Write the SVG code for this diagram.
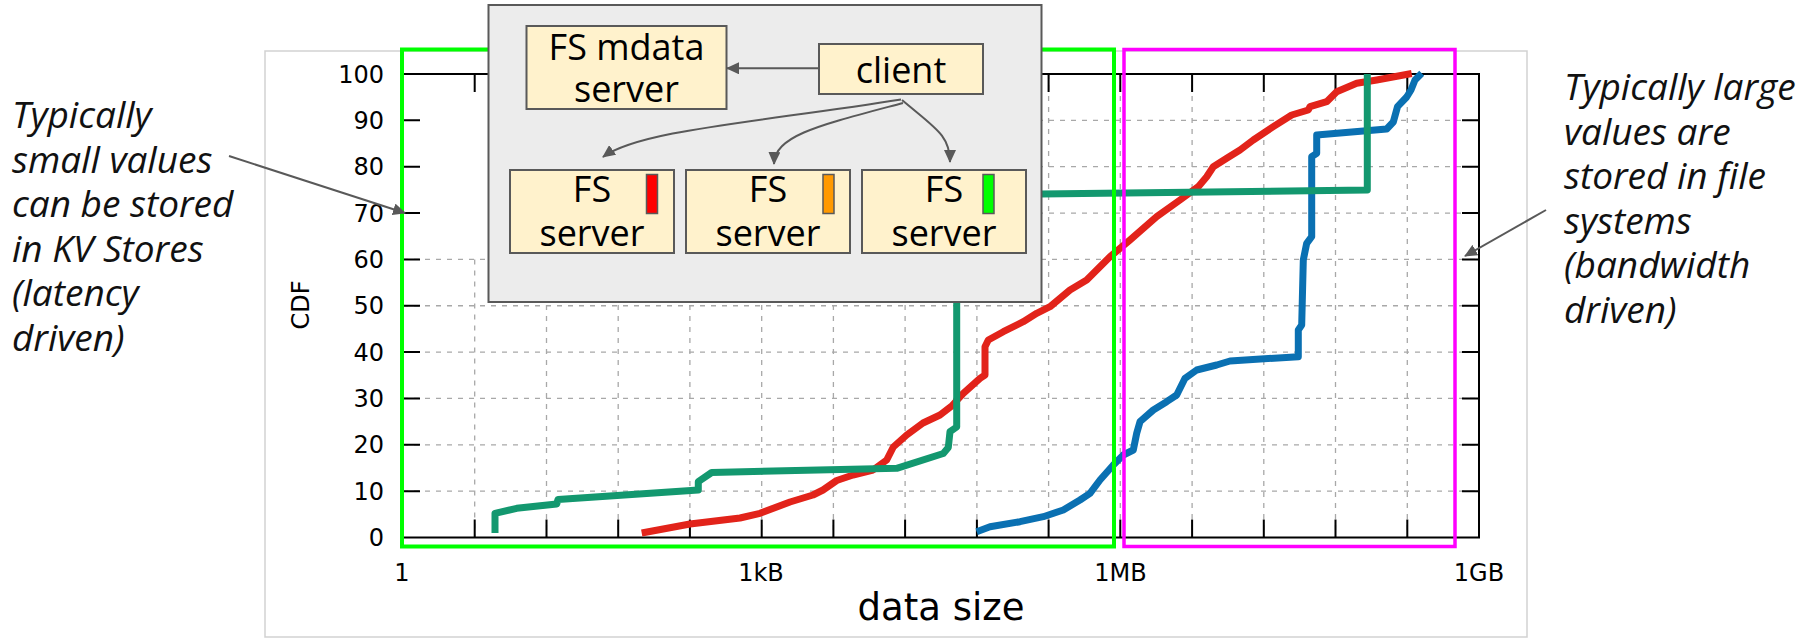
<svg xmlns="http://www.w3.org/2000/svg" width="1814" height="638" viewBox="0 0 1814 638">
<style>
.ann{font-family:"Open Sans","Liberation Sans",sans-serif;font-style:italic;font-size:37px;fill:#111}
.node rect.box{fill:#fff2cc;stroke:#595959;stroke-width:2}
.node text{font-family:"Open Sans","Liberation Sans",sans-serif;font-size:36px;fill:#000;text-anchor:middle}
.bar{stroke:#595959;stroke-width:1.5}
.tick{font-family:"DejaVu Sans","Liberation Sans",sans-serif;font-size:24px;fill:#000}
.grid line{stroke:#a8a8a8;stroke-width:1.3;stroke-dasharray:5,6}
.ax{stroke:#000;stroke-width:2;fill:none}
.curve{fill:none;stroke-width:7;stroke-linejoin:round}
.conn{fill:none;stroke:#595959;stroke-width:2}
</style>
<defs>
<marker id="ah" markerUnits="userSpaceOnUse" markerWidth="14" markerHeight="12" refX="12" refY="6" orient="auto">
<path d="M0,0 L13,6 L0,12 z" fill="#595959"/>
</marker>
</defs>
<rect x="0" y="0" width="1814" height="638" fill="#fff"/>
<!-- chart panel -->
<rect x="265" y="51" width="1262" height="586" fill="#fff" stroke="#d2d2d2" stroke-width="1.5"/>
<g class="grid">
<line x1="474.7" y1="259.4" x2="474.7" y2="537.5"/>
<line x1="546.5" y1="74" x2="546.5" y2="537.5"/>
<line x1="618.2" y1="74" x2="618.2" y2="537.5"/>
<line x1="689.9" y1="74" x2="689.9" y2="537.5"/>
<line x1="761.7" y1="74" x2="761.7" y2="537.5"/>
<line x1="833.4" y1="74" x2="833.4" y2="537.5"/>
<line x1="905.1" y1="74" x2="905.1" y2="537.5"/>
<line x1="976.9" y1="74" x2="976.9" y2="537.5"/>
<line x1="1048.6" y1="74" x2="1048.6" y2="537.5"/>
<line x1="1120.3" y1="74" x2="1120.3" y2="537.5"/>
<line x1="1192.1" y1="74" x2="1192.1" y2="537.5"/>
<line x1="1263.8" y1="74" x2="1263.8" y2="537.5"/>
<line x1="1335.5" y1="74" x2="1335.5" y2="537.5"/>
<line x1="1407.3" y1="74" x2="1407.3" y2="537.5"/>
<line x1="403" y1="491.15" x2="1479" y2="491.15"/>
<line x1="403" y1="444.8" x2="1479" y2="444.8"/>
<line x1="403" y1="398.45" x2="1479" y2="398.45"/>
<line x1="403" y1="352.1" x2="1479" y2="352.1"/>
<line x1="403" y1="305.75" x2="1479" y2="305.75"/>
<line x1="403" y1="259.4" x2="1479" y2="259.4"/>
<line x1="488" y1="213.05" x2="1479" y2="213.05"/>
<line x1="488" y1="166.7" x2="1479" y2="166.7"/>
<line x1="488" y1="120.35" x2="1479" y2="120.35"/>
</g>
<g class="ax">
<rect x="403" y="74" width="1076" height="463.5"/>
<path d="M474.7,537.5v-18M546.5,537.5v-18M618.2,537.5v-18M689.9,537.5v-18M761.7,537.5v-18M833.4,537.5v-18M905.1,537.5v-18M976.9,537.5v-18M1048.6,537.5v-18M1120.3,537.5v-18M1192.1,537.5v-18M1263.8,537.5v-18M1335.5,537.5v-18M1407.3,537.5v-18"/>
<path d="M474.7,74v18M546.5,74v18M618.2,74v18M689.9,74v18M761.7,74v18M833.4,74v18M905.1,74v18M976.9,74v18M1048.6,74v18M1120.3,74v18M1192.1,74v18M1263.8,74v18M1335.5,74v18M1407.3,74v18"/>
<path d="M403,491.15h17M403,444.8h17M403,398.45h17M403,352.1h17M403,305.75h17M403,259.4h17M403,213.05h17M403,166.7h17M403,120.35h17"/>
<path d="M1479,491.15h-17M1479,444.8h-17M1479,398.45h-17M1479,352.1h-17M1479,305.75h-17M1479,259.4h-17M1479,213.05h-17M1479,166.7h-17M1479,120.35h-17"/>
</g>
<g class="tick" text-anchor="end">
<text x="384" y="546">0</text>
<text x="384" y="499.7">10</text>
<text x="384" y="453.3">20</text>
<text x="384" y="407">30</text>
<text x="384" y="360.6">40</text>
<text x="384" y="314.3">50</text>
<text x="384" y="267.9">60</text>
<text x="384" y="221.5">70</text>
<text x="384" y="175.2">80</text>
<text x="384" y="128.9">90</text>
<text x="384" y="82.5">100</text>
</g>
<g class="tick" text-anchor="middle">
<text x="402" y="581">1</text>
<text x="761" y="581">1kB</text>
<text x="1120.5" y="581">1MB</text>
<text x="1479" y="581">1GB</text>
<text x="941" y="620" font-size="37">data size</text>
<text x="0" y="0" transform="translate(309,305) rotate(-90)">CDF</text>
</g>
<g id="curves">
<path class="curve" stroke="#e2231a" d="M641.7,533 L690,524 L740,518 L760,513.3 L790,502 L813,495 L823,490 L836.7,480.5 L853,475 L873,470 L886.7,460 L893.3,447 L906.7,435 L923,423 L940,415 L951.7,406 L963.3,393.3 L980,378.3 L985,375 L985,346.7 L988.3,340 L1003.3,331.7 L1023.3,321.7 L1036.7,313.3 L1050,306.7 L1070,290 L1086.7,280 L1110,256.7 L1130,240 L1156.7,216.7 L1180,200 L1198.3,186.7 L1206.7,176.7 L1213.3,166.7 L1226.7,158.3 L1240,150 L1253.3,140 L1273.3,126.7 L1291.7,115 L1308.3,110 L1310,106.7 L1326.7,101.7 L1336.7,91.7 L1356.7,83.3 L1376.7,80 L1411.7,73.5"/>
<path class="curve" stroke="#0a70b2" d="M976.7,531.7 L990,526.7 L1020,521.7 L1043.3,516.7 L1063.3,510 L1080,500 L1090,493.3 L1100,480 L1113.3,465 L1123.3,455 L1133.3,450 L1136.7,433.3 L1140,421.7 L1153.3,410 L1166.7,401.7 L1176.7,395 L1185,378.3 L1196.7,370 L1216.7,365 L1230,361 L1298.3,356.7 L1298.3,330 L1301.7,325 L1303.3,260 L1306.7,243.3 L1311.7,236.7 L1311.7,156.7 L1316.7,153.3 L1316.7,135 L1386.7,129 L1393.3,122 L1397.5,106.7 L1406.7,97 L1411,90 L1415,80 L1421.7,73.3"/>
<path class="curve" stroke="#13986f" d="M495,533 L495,513.3 L516.7,508.3 L556.7,504 L558,499.5 L698.3,490 L698.3,481.7 L711.7,472.5 L896.7,468.3 L943.3,453.5 L948.3,447.5 L950,431.7 L956.7,427 L956.7,195.3 L1041,194 L1367.3,190 L1367.3,74"/>
</g>
<!-- region highlight boxes -->
<rect x="402" y="49.5" width="712" height="497" fill="none" stroke="#00ff00" stroke-width="4"/>
<rect x="1124" y="49.5" width="331" height="497" fill="none" stroke="#ff00ff" stroke-width="3.5"/>
<!-- annotations -->
<g id="left-note">
<text class="ann" x="12" y="128">Typically</text>
<text class="ann" x="12" y="172.5">small values</text>
<text class="ann" x="12" y="217">can be stored</text>
<text class="ann" x="12" y="261.5">in KV Stores</text>
<text class="ann" x="12" y="306">(latency</text>
<text class="ann" x="12" y="350.5">driven)</text>
</g>
<g id="right-note">
<text class="ann" x="1564" y="100">Typically large</text>
<text class="ann" x="1564" y="144.5">values are</text>
<text class="ann" x="1564" y="189">stored in file</text>
<text class="ann" x="1564" y="233.5">systems</text>
<text class="ann" x="1564" y="278">(bandwidth</text>
<text class="ann" x="1564" y="322.5">driven)</text>
</g>
<!-- architecture inset -->
<g id="fs-system">
<rect x="488.5" y="5" width="553" height="297" fill="#ececec" stroke="#595959" stroke-width="2"/>
</g>
<g id="mdata" class="node">
<rect class="box" x="526.5" y="26" width="200" height="83"/>
<text x="626.5" y="59.5">FS mdata</text>
<text x="626.5" y="102">server</text>
</g>
<g id="client" class="node">
<rect class="box" x="819" y="44" width="164" height="50"/>
<text x="901" y="82.5">client</text>
</g>
<g id="server1" class="node">
<rect class="box" x="510" y="170" width="164" height="83"/>
<rect class="bar" x="646.5" y="174.5" width="11" height="39" fill="#ff0000"/>
<text x="592" y="202">FS</text>
<text x="592" y="245.5">server</text>
</g>
<g id="server2" class="node">
<rect class="box" x="686" y="170" width="164" height="83"/>
<rect class="bar" x="823" y="174.5" width="11" height="39" fill="#ff9900"/>
<text x="768" y="202">FS</text>
<text x="768" y="245.5">server</text>
</g>
<g id="server3" class="node">
<rect class="box" x="862" y="170" width="164" height="83"/>
<rect class="bar" x="983" y="174.5" width="11" height="39" fill="#00ff00"/>
<text x="944" y="202">FS</text>
<text x="944" y="245.5">server</text>
</g>
<g id="connectors">
<path class="conn" d="M819,68.3 L727,68.3" marker-end="url(#ah)"/>
<path class="conn" d="M901,99.5 C760,122 640,130 603,157" marker-end="url(#ah)"/>
<path class="conn" d="M903,103 C820,125 775,135 774,164" marker-end="url(#ah)"/>
<path class="conn" d="M902,100 C935,128 950,135 950,162" marker-end="url(#ah)"/>
<path class="conn" d="M229,156 L405,213" marker-end="url(#ah)"/>
<path class="conn" d="M1546,210 L1465,256" marker-end="url(#ah)"/>
</g>
</svg>
